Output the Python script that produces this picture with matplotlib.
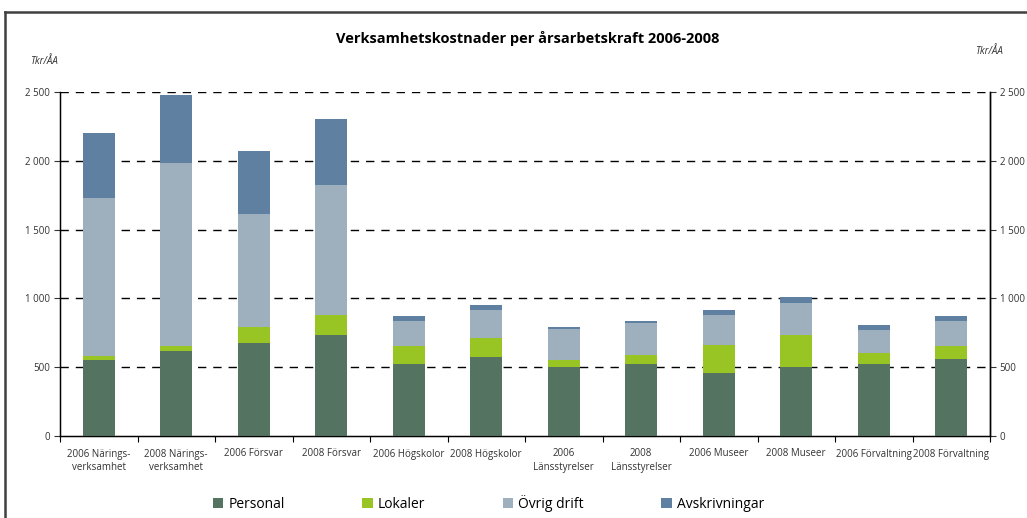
import matplotlib
matplotlib.use("Agg")
import matplotlib.pyplot as plt
import numpy as np
from matplotlib.lines import Line2D
from matplotlib.patches import Patch

categories = ["2006 Närings-\nverksamhet", "2008 Närings-\nverksamhet", "2006 Försvar", "2008 Försvar",
              "2006 Högskolor", "2008 Högskolor", "2006\nLänsstyrelser", "2008\nLänsstyrelser",
              "2006 Museer", "2008 Museer", "2006 Förvaltning", "2008 Förvaltning"]
personal = [552, 618, 676, 734, 523, 574, 501, 523, 458, 501, 523, 560]
lokaler = [29, 36, 116, 145, 131, 138, 51, 66, 203, 233, 80, 94]
ovrig = [1149, 1330, 821, 945, 182, 204, 226, 232, 218, 233, 167, 182]
avskr = [472, 494, 458, 480, 36, 36, 14, 15, 37, 43, 37, 36]
series_names = ["Personal", "Lokaler", "Övrig drift", "Avskrivningar"]
colors = ["#547360", "#98C424", "#9EB0BE", "#6080A2"]
yticks = [0, 500, 1000, 1500, 2000, 2500]

plt.rcParams['font.family'] = ['Open Sans', 'DejaVu Sans']

W, H = 1027, 518
fig = plt.figure(figsize=(W/100, H/100), dpi=100)
ax = fig.add_axes([60/W, 1-436/H, 930/W, 344/H])

x = np.arange(len(categories))
bottom = np.zeros(len(categories))
for vals, name, c in zip([personal, lokaler, ovrig, avskr], series_names, colors):
    ax.bar(x, vals, 0.41, bottom=bottom, color=c, label=name, zorder=3)
    bottom += np.array(vals)

ax.set_xlim(-0.5, len(categories)-0.5)
ax.set_ylim(0, 2500)
ax.set_yticks(yticks)
ax.set_yticklabels([f"{v:,}".replace(",", " ") for v in yticks])
for v in yticks[1:]:
    ax.axhline(v, color="black", lw=1.0, ls=(0, (6, 5)), zorder=1)

ax.set_xticks(x)
ax.set_xticklabels(categories, fontsize=7, color="#333333", linespacing=1.3)
ax.set_xticks(np.arange(-0.5, len(categories)), minor=True)
ax.tick_params(axis='x', which='major', length=0, pad=9)
ax.tick_params(axis='x', which='minor', length=4, width=0.8, direction='out')
ax.tick_params(axis='y', labelsize=7, length=4, width=0.8, colors="#333333", pad=3)
ax.spines['top'].set_visible(False)
for s in ['left', 'right', 'bottom']:
    ax.spines[s].set_linewidth(1.0)
    ax.spines[s].set_color("black")

ax2 = ax.twinx()
ax2.set_ylim(0, 2500)
ax2.set_yticks(yticks)
ax2.set_yticklabels([f"{v:,}".replace(",", " ") for v in yticks])
ax2.tick_params(axis='y', labelsize=7, length=4, width=0.8, colors="#333333", pad=3)
ax2.spines['top'].set_visible(False)
ax2.spines['right'].set_linewidth(1.0)

fig.text(528/W, 1-39/H, "Verksamhetskostnader per årsarbetskraft 2006-2008", ha='center', va='center',
         fontsize=10.5, fontweight='bold', color="black")
fig.text(30/W, 1-62/H, "Tkr/ÅA", ha='left', va='center', fontsize=7, style='italic', color="#333333")
fig.text(1003/W, 1-52/H, "Tkr/ÅA", ha='right', va='center', fontsize=7, style='italic', color="#333333")

handles = [Patch(facecolor=c, edgecolor='none') for c in colors]
fig.legend(handles, series_names, loc='center left', bbox_to_anchor=(206/W, 1-503/H), ncol=4,
           frameon=False, fontsize=10, handlelength=0.75, handleheight=0.75, handletextpad=0.35,
           columnspacing=5.6, borderpad=0)

# outer frame (left and top edges visible)
fig.add_artist(Line2D([5/W, 5/W], [0, 1-12/H], transform=fig.transFigure, color="#404040", lw=1.8))
fig.add_artist(Line2D([5/W, 1], [1-12/H, 1-12/H], transform=fig.transFigure, color="#404040", lw=1.8))

fig.savefig("out.png", dpi=100)
